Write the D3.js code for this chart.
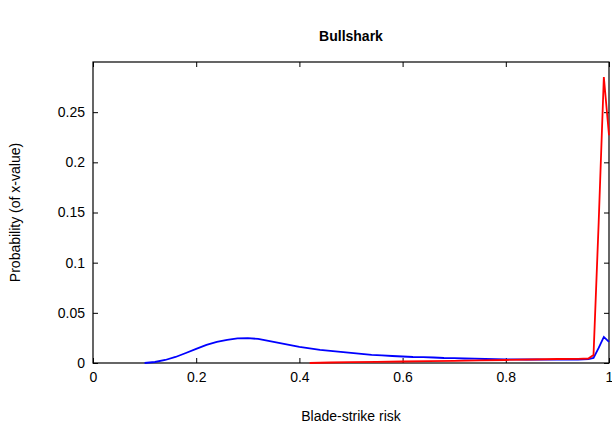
<!DOCTYPE html>
<html>
<head>
<meta charset="utf-8">
<script src="https://cdn.jsdelivr.net/npm/d3@7"></script>
<style>
  body { margin: 0; background: #fff; }
  text { font-family: "Liberation Sans", Arial, sans-serif; fill: #000; }
</style>
</head>
<body>
<script>
// curves (x = blade-strike risk, y = probability)
const blueX = [0.10, 0.12, 0.14, 0.16, 0.18, 0.20, 0.22, 0.24, 0.26, 0.28, 0.30, 0.32, 0.34, 0.36, 0.38, 0.40,
  0.42, 0.44, 0.46, 0.48, 0.50, 0.52, 0.54, 0.56, 0.58, 0.60, 0.62, 0.64, 0.66, 0.68, 0.70, 0.72, 0.74, 0.76,
  0.78, 0.80, 0.82, 0.84, 0.86, 0.88, 0.90, 0.92, 0.94, 0.96, 0.97, 0.98, 0.99, 1.00]
const blueY = [0, 0.001, 0.003, 0.006, 0.010, 0.014, 0.018, 0.021, 0.023, 0.0245, 0.0248, 0.024, 0.022, 0.020, 0.018, 0.016,
  0.0145, 0.013, 0.012, 0.011, 0.010, 0.009, 0.008, 0.0075, 0.007, 0.0065, 0.006, 0.0058, 0.0055, 0.005, 0.0048, 0.0045, 0.0043, 0.004,
  0.0038, 0.0037, 0.0036, 0.0035, 0.0035, 0.0034, 0.0034, 0.0034, 0.0035, 0.0038, 0.005, 0.015, 0.026, 0.021]

const redX = [0.42, 0.46, 0.50, 0.55, 0.60, 0.65, 0.70, 0.75, 0.80, 0.85, 0.90, 0.94, 0.96, 0.97, 0.98, 0.99, 1.00]
const redY = [0, 0.0005, 0.0008, 0.0012, 0.0015, 0.0018, 0.0022, 0.0026, 0.003, 0.0035, 0.004, 0.0042, 0.0045, 0.008, 0.14, 0.285, 0.227]

const xTicks = [0, 0.2, 0.4, 0.6, 0.8, 1]
const yTicks = [0, 0.05, 0.1, 0.15, 0.2, 0.25]

const W = 612, H = 433
// plot box edges
const pL = 93, pR = 609, pT = 62, pB = 363

const x = d3.scaleLinear().domain([0, 1]).range([pL, pR])
const y = d3.scaleLinear().domain([0, 0.3]).range([pB, pT])

const svg = d3.select("body").append("svg")
  .attr("width", W)
  .attr("height", H)

// ticks go inside, on all four sides (box on)
const tl = 5
svg.append("g").attr("transform", `translate(0,${pB})`)
  .call(d3.axisBottom(x).tickValues(xTicks).tickSizeInner(-tl).tickSizeOuter(0).tickPadding(9).tickFormat(d3.format("")))
svg.append("g").attr("transform", `translate(0,${pT})`)
  .call(d3.axisTop(x).tickValues(xTicks).tickSizeInner(-tl).tickSizeOuter(0).tickFormat(""))
svg.append("g").attr("transform", `translate(${pL},0)`)
  .call(d3.axisLeft(y).tickValues(yTicks).tickSizeInner(-tl).tickSizeOuter(0).tickPadding(8).tickFormat(d3.format("")))
svg.append("g").attr("transform", `translate(${pR},0)`)
  .call(d3.axisRight(y).tickValues(yTicks).tickSizeInner(-tl).tickSizeOuter(0).tickFormat(""))

svg.selectAll(".domain").remove()
svg.selectAll(".tick line").attr("stroke", "#000")
svg.selectAll(".tick text").attr("font-size", 14)

svg.append("rect")
  .attr("x", pL).attr("y", pT)
  .attr("width", pR - pL).attr("height", pB - pT)
  .attr("fill", "none").attr("stroke", "#000").attr("stroke-width", 1.2)

const line = d3.line().x(d => x(d[0])).y(d => y(d[1]))

svg.append("path")
  .datum(d3.zip(blueX, blueY))
  .attr("d", line)
  .attr("fill", "none").attr("stroke", "#0000ff").attr("stroke-width", 1.8)

svg.append("path")
  .datum(d3.zip(redX, redY))
  .attr("d", line)
  .attr("fill", "none").attr("stroke", "#ff0000").attr("stroke-width", 1.8)

svg.append("text")
  .attr("x", (pL + pR) / 2).attr("y", 41)
  .attr("text-anchor", "middle").attr("font-size", 14).attr("font-weight", "bold")
  .text("Bullshark")

svg.append("text")
  .attr("x", (pL + pR) / 2).attr("y", 421)
  .attr("text-anchor", "middle").attr("font-size", 14)
  .text("Blade-strike risk")

svg.append("text")
  .attr("transform", `translate(20,${(pT + pB) / 2}) rotate(-90)`)
  .attr("text-anchor", "middle").attr("font-size", 14)
  .text("Probability (of x-value)")
</script>
</body>
</html>
